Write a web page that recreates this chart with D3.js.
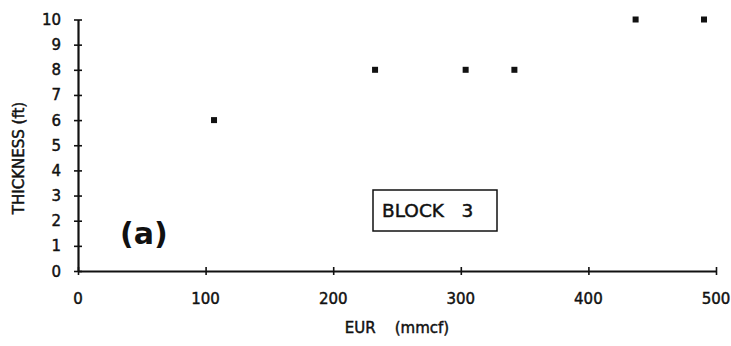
<!DOCTYPE html>
<html>
<head>
<meta charset="utf-8">
<script src="https://cdn.jsdelivr.net/npm/d3@7"></script>
<style>
  html, body { margin: 0; padding: 0; background: #fff; }
  svg { display: block; }
  text { font-family: "DejaVu Sans", sans-serif; fill: #111; stroke: #111; stroke-width: 0.45px; }
  text.heavy { stroke-width: 0; }
</style>
</head>
<body>
<svg id="chart" width="731" height="346"></svg>
<script>
// EUR (mmcf) versus net pay thickness (ft), Block 3 wells
const eur = [106.6, 232.8, 303.8, 342.0, 437.0, 490.6];
const thickness = [6, 8, 8, 8, 10, 10];
const xTicks = [0, 100, 200, 300, 400, 500];
const yTicks = [0, 1, 2, 3, 4, 5, 6, 7, 8, 9, 10];
const xTitle = "EUR    (mmcf)";
const yTitle = "THICKNESS (ft)";
const panelLabel = "(a)";
const blockLabel = "BLOCK   3";

const svg = d3.select("#chart");
const x = d3.scaleLinear().domain([0, 500]).range([78, 716]);
const y = d3.scaleLinear().domain([0, 10]).range([271, 19.5]);

// axis lines with ticks crossing both sides
const xAxis = svg.append("g").attr("transform", `translate(0,${y(0)})`)
  .call(d3.axisBottom(x).tickValues(xTicks).tickSizeInner(4).tickSizeOuter(0).tickFormat(""));
xAxis.select(".domain").attr("stroke", "#111").attr("stroke-width", 2.2);
xAxis.selectAll(".tick line").attr("y1", -4).attr("y2", 4).attr("stroke", "#111").attr("stroke-width", 1.6);

const yAxis = svg.append("g").attr("transform", `translate(${x(0)},0)`)
  .call(d3.axisLeft(y).tickValues(yTicks).tickSizeInner(4).tickSizeOuter(0).tickFormat(""));
yAxis.select(".domain").attr("stroke", "#111").attr("stroke-width", 2.2);
yAxis.selectAll(".tick line").attr("x1", -4).attr("x2", 4).attr("stroke", "#111").attr("stroke-width", 1.6);

// tick labels
svg.append("g").selectAll("text").data(yTicks).join("text")
  .attr("x", 61).attr("y", d => y(d) + 5.5)
  .attr("text-anchor", "end").attr("font-size", 15)
  .text(d => d);

svg.append("g").selectAll("text").data(xTicks).join("text")
  .attr("x", d => x(d)).attr("y", 304)
  .attr("text-anchor", "middle").attr("font-size", 15)
  .text(d => d);

// axis titles
svg.append("text")
  .attr("x", 397).attr("y", 333)
  .attr("text-anchor", "middle").attr("font-size", 15)
  .attr("xml:space", "preserve").style("white-space", "pre")
  .text(xTitle);

svg.append("text")
  .attr("transform", "translate(24,158) rotate(-90)")
  .attr("text-anchor", "middle").attr("font-size", 15)
  .text(yTitle);

// data points
svg.append("g").selectAll("rect").data(eur.map((v, i) => [v, thickness[i]])).join("rect")
  .attr("x", d => x(d[0]) - 3).attr("y", d => y(d[1]) - 3)
  .attr("width", 6).attr("height", 6).attr("fill", "#111");

// panel label
svg.append("text").attr("class", "heavy")
  .attr("x", 120).attr("y", 244)
  .attr("font-size", 30).attr("font-weight", "bold")
  .text(panelLabel);

// block label box
svg.append("rect")
  .attr("x", 373).attr("y", 190).attr("width", 124).attr("height", 41)
  .attr("fill", "none").attr("stroke", "#111").attr("stroke-width", 1.5);
svg.append("text")
  .attr("x", 382).attr("y", 217).attr("font-size", 18.5)
  .attr("xml:space", "preserve").style("white-space", "pre")
  .text(blockLabel);
</script>
</body>
</html>
